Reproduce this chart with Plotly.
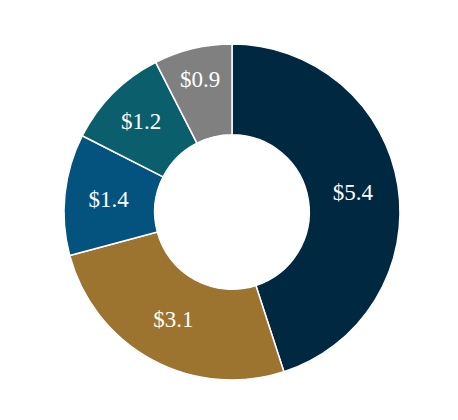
import plotly.graph_objects as go

labels = ["A", "B", "C", "D", "E"]
values = [5.4, 3.1, 1.4, 1.2, 0.9]
colors = ["#002841", "#9c7430", "#04527e", "#0b5e6b", "#808080"]

fig = go.Figure(go.Pie(
    labels=labels,
    values=values,
    hole=0.46,
    sort=False,
    direction="clockwise",
    rotation=0,
    marker=dict(colors=colors, line=dict(color="white", width=1.5)),
    texttemplate="$%{value:.1f}",
    textposition="inside",
    insidetextorientation="horizontal",
    textfont=dict(family="Liberation Serif", size=23, color="white"),
    showlegend=False,
))
fig.update_layout(
    width=458, height=420,
    margin=dict(l=56, r=66, t=36, b=48),
    paper_bgcolor="white",
    plot_bgcolor="white",
)
fig.write_html("out.html")
